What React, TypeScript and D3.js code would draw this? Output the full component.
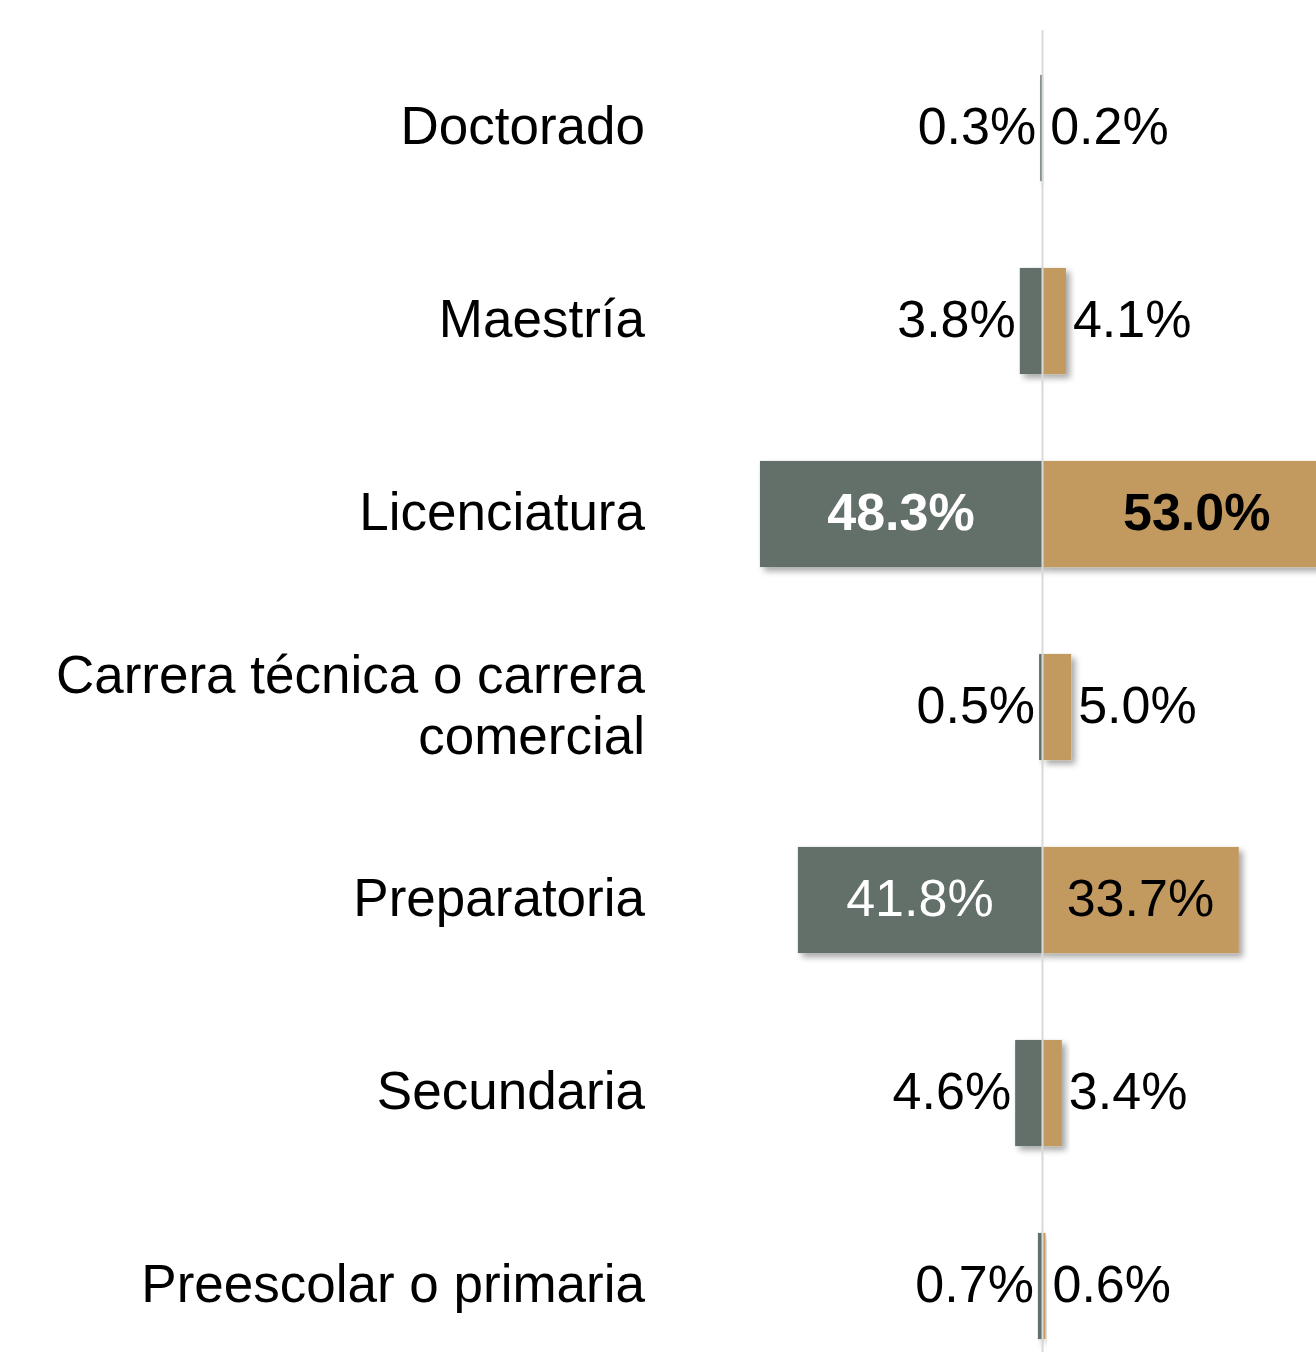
import React from "react";
import * as d3 from "d3";

const categories = [
  "Doctorado",
  "Maestría",
  "Licenciatura",
  "Carrera técnica o carrera comercial",
  "Preparatoria",
  "Secundaria",
  "Preescolar o primaria",
];
const categoryLines = [
  ["Doctorado"],
  ["Maestría"],
  ["Licenciatura"],
  ["Carrera técnica o carrera", "comercial"],
  ["Preparatoria"],
  ["Secundaria"],
  ["Preescolar o primaria"],
];
const leftValues = [0.3, 3.8, 48.3, 0.5, 41.8, 4.6, 0.7];
const rightValues = [0.2, 4.1, 53.0, 5.0, 33.7, 3.4, 0.6];
const boldRows = ["Licenciatura"];

const W = 1316;
const H = 1352;
const CX = 1042;
const LEFT_COLOR = "#63706A";
const RIGHT_COLOR = "#C29A61";
const FONT = "'Liberation Sans', Arial, sans-serif";

export default function App() {
  const x = d3.scaleLinear().domain([0, 100]).range([0, 584]);
  const y = d3
    .scaleBand<string>()
    .domain(categories)
    .range([31.5, 31.5 + 7 * 193])
    .paddingInner(0.45)
    .paddingOuter(0.225);
  const bw = y.bandwidth();
  const fs = 53;
  const vfs = 52;
  const insideThreshold = 20;
  const dy = 0.31;

  return (
    <svg
      width={W}
      height={H}
      style={{ position: "absolute", left: 0, top: 0, background: "#fff" }}
      fontFamily={FONT}
    >
      <defs>
        <filter id="shadow" x="-20%" y="-20%" width="160%" height="160%">
          <feDropShadow dx="4" dy="4" stdDeviation="3" floodColor="#000" floodOpacity="0.35" />
        </filter>
      </defs>
      {categories.map((c, i) => {
        const yc = (y(c) as number) + bw / 2;
        const lv = leftValues[i];
        const rv = rightValues[i];
        const lw = x(lv);
        const rw = x(rv);
        const bold = boldRows.includes(c);
        const lines = categoryLines[i];
        return (
          <g key={c}>
            <rect x={CX - lw} y={y(c)} width={lw} height={bw} fill={LEFT_COLOR} filter="url(#shadow)" />
            <rect x={CX} y={y(c)} width={rw} height={bw} fill={RIGHT_COLOR} filter="url(#shadow)" />
            {lines.map((ln, k) => (
              <text
                key={k}
                x={645}
                y={yc + (k - (lines.length - 1) / 2) * 61 + dy * fs}
                textAnchor="end"
                fontSize={fs}
                fill="#000"
              >
                {ln}
              </text>
            ))}
            {lv > insideThreshold ? (
              <text
                x={CX - lw / 2}
                y={yc + dy * vfs}
                textAnchor="middle"
                fontSize={vfs}
                fontWeight={bold ? "bold" : "normal"}
                fill="#fff"
              >
                {lv.toFixed(1)}%
              </text>
            ) : (
              <text
                x={CX - lw - 4}
                y={yc + dy * vfs}
                textAnchor="end"
                fontSize={vfs}
                fill="#000"
              >
                {lv.toFixed(1)}%
              </text>
            )}
            {rv > insideThreshold ? (
              <text
                x={CX + rw / 2}
                y={yc + dy * vfs}
                textAnchor="middle"
                fontSize={vfs}
                fontWeight={bold ? "bold" : "normal"}
                fill="#000"
              >
                {rv.toFixed(1)}%
              </text>
            ) : (
              <text
                x={CX + rw + 7}
                y={yc + dy * vfs}
                textAnchor="start"
                fontSize={vfs}
                fill="#000"
              >
                {rv.toFixed(1)}%
              </text>
            )}
          </g>
        );
      })}
      <line x1={CX + 0.5} x2={CX + 0.5} y1={30} y2={H} stroke="#D9D9D9" strokeWidth={2} />
    </svg>
  );
}
